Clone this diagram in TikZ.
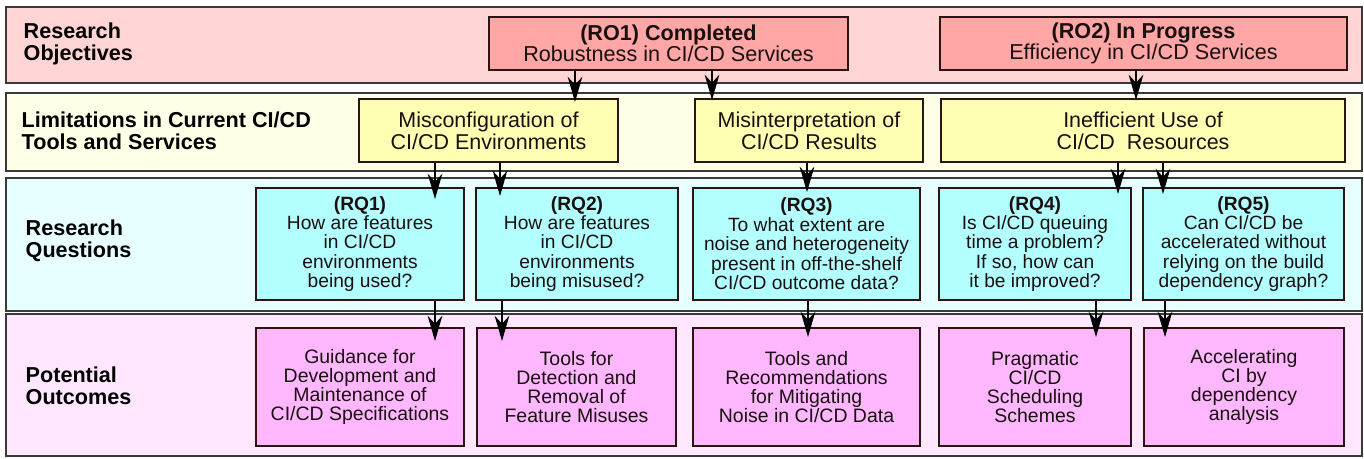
\documentclass[tikz,border=0pt]{standalone}
\usepackage{fontspec}
\setmainfont{Liberation Sans}
\usepackage{tikz}
\usetikzlibrary{calc,arrows.meta}
\definecolor{roband}{HTML}{FFD4D4}
\definecolor{robox}{HTML}{FFA6A6}
\definecolor{limband}{HTML}{FFFFE8}
\definecolor{limbox}{HTML}{FFFFB3}
\definecolor{rqband}{HTML}{E8FFFF}
\definecolor{rqbox}{HTML}{B3FFFF}
\definecolor{poband}{HTML}{FFE8FF}
\definecolor{pobox}{HTML}{FFB8FF}
\definecolor{bandline}{HTML}{3A3A3A}
\definecolor{boxline}{HTML}{2B1414}
\definecolor{txt}{HTML}{1A1010}
\tikzstyle{arrow} = [line width=1.1pt, -{Stealth[length=19pt,width=11pt,inset=6pt]}, draw=black]

\begin{document}
\begin{tikzpicture}[x=0.75pt, y=-0.75pt,
		boxsize/.style 2 args={minimum width=#1*0.75pt, minimum height=#2*0.75pt},
		band/.style={draw=bandline, line width=1.1pt, inner sep=0pt, boxsize={1356}{#1}},
		bandlabel/.style={anchor=west, align=left, text=black, font=\bfseries\fontsize{16.2}{16.6}\selectfont},
		box/.style={draw=boxline, line width=1.4pt, inner sep=0pt, align=center, text=txt},
		robox/.style={box, fill=robox, boxsize={#1}{53}, font=\fontsize{16.2}{15.6}\selectfont},
		limbox/.style={box, fill=limbox, boxsize={#1}{63}, font=\fontsize{16.1}{16.4}\selectfont},
		rqbox/.style={box, fill=rqbox, boxsize={#1}{112}, font=\fontsize{14.4}{14.6}\selectfont},
		pobox/.style={box, fill=pobox, boxsize={#1}{118}, font=\fontsize{14.6}{14.3}\selectfont},
	]
	\useasboundingbox (0,0) rectangle (1364,458);

	\node[band=76, fill=roband] (ro) at (684,45) {};
	\node[band=78, fill=limband] (lim) at (684,132) {};
	\node[band=133, fill=rqband] (rq) at (684,244.5) {};
	\node[band=142, fill=poband] (po) at (684,385) {};

	\node[bandlabel] (rolabel) at (19,44) {Research\\Objectives};
	\node[bandlabel] (limlabel) at (17,131) {Limitations in Current CI/CD\\Tools and Services};
	\node[bandlabel] (rqlabel) at (21,241) {Research\\Questions};
	\node[bandlabel] (polabel) at (21,386) {Potential\\Outcomes};

	\node[robox=359] (ro1) at (668.5,43.5) {\textbf{(RO1) Completed}\\Robustness in CI/CD Services};
	\node[robox=407] (ro2) at (1143.5,43.5) {\textbf{(RO2) In Progress}\\Efficiency in CI/CD Services};

	\node[limbox=259] (mis) at (488.5,130.5) {Misconfiguration of\\CI/CD Environments};
	\node[limbox=228] (mit) at (809,130.5) {Misinterpretation of\\CI/CD Results};
	\node[limbox=404] (ine) at (1143,130.5) {Inefficient Use of\\CI/CD\ \ Resources};

	\node[rqbox=208] (rq1) at (360,244) {\textbf{(RQ1)}\\How are features\\in CI/CD\\environments\\being used?};
	\node[rqbox=202] (rq2) at (577,244) {\textbf{(RQ2)}\\How are features\\in CI/CD\\environments\\being misused?};
	\node[rqbox=227] (rq3) at (806.5,244) {\textbf{(RQ3)}\\To what extent are\\noise and heterogeneity\\present in off-the-shelf\\CI/CD outcome data?};
	\node[rqbox=192] (rq4) at (1035,244) {\textbf{(RQ4)}\\Is CI/CD queuing\\time a problem?\\If so, how can\\it be improved?};
	\node[rqbox=201] (rq5) at (1243.5,244) {\textbf{(RQ5)}\\Can CI/CD be\\accelerated without\\relying on the build\\dependency graph?};

	\node[pobox=208] (po1) at (360,387) {Guidance for\\Development and\\Maintenance of\\CI/CD Specifications};
	\node[pobox=199] (po2) at (576.5,387) {Tools for\\Detection and\\Removal of\\Feature Misuses};
	\node[pobox=227] (po3) at (806.5,387) {Tools and\\Recommendations\\for Mitigating\\Noise in CI/CD Data};
	\node[pobox=192] (po4) at (1035,387) {Pragmatic\\CI/CD\\Scheduling\\Schemes};
	\node[pobox=200] (po5) at (1244,387) {Accelerating\\CI by\\dependency\\analysis};

	\foreach \s/\t/\x/\d in {ro1/mis/575/4, ro1/mit/712/2, ro2/ine/1136/2,
			mis/rq1/435/12, mis/rq2/500/9, mit/rq3/807/5, ine/rq4/1118/7, ine/rq5/1163/7,
			rq1/po1/435/14, rq2/po2/502/14, rq3/po3/808/10, rq4/po4/1096/10, rq5/po5/1165/10}
		\draw[arrow] (\s.south -| \x,0) -- ($(\t.north -| \x,0)+(0,\d)$);
\end{tikzpicture}
\end{document}
